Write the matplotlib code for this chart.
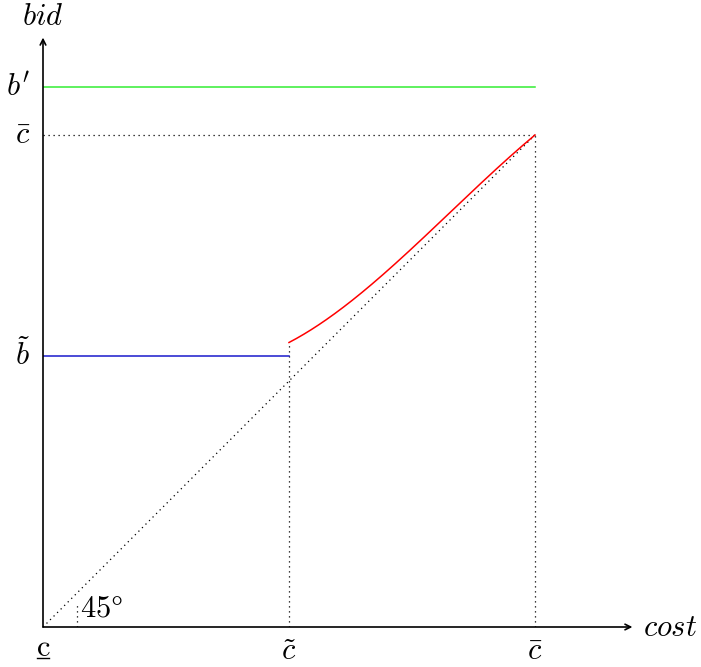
import numpy as np
import matplotlib
matplotlib.use("Agg")
import matplotlib.pyplot as plt

plt.rcParams['mathtext.fontset'] = 'cm'
plt.rcParams['font.family'] = 'serif'
plt.rcParams['font.serif'] = ['DejaVu Serif']

# Values (cost/bid units, c_bar = 1)
c_low = 0.0
c_tilde = 0.5
c_bar = 1.0
b_tilde = 0.551
b_prime = 1.098

# red bidding curve above c_tilde
red_x = [0.500, 0.530, 0.559, 0.594, 0.628, 0.662, 0.695, 0.724, 0.752,
         0.787, 0.818, 0.848, 0.888, 0.925, 0.963, 1.000]
red_y = [0.579, 0.595, 0.612, 0.637, 0.665, 0.692, 0.720, 0.745, 0.770,
         0.807, 0.835, 0.862, 0.898, 0.934, 0.970, 1.000]

xmax = 1.2
fs = 22

fig = plt.figure(figsize=(7.01, 6.67), dpi=100)
ax = fig.add_axes([43 / 701, 40 / 667, xmax * 492 / 701, xmax * 492 / 667])
ax.set_xlim(0, xmax)
ax.set_ylim(0, xmax)
ax.axis('off')

# axes with arrows
ax.annotate('', xy=(1.198, 0), xytext=(0, 0),
            arrowprops=dict(arrowstyle='->', lw=1.2, color='black', shrinkA=0, shrinkB=0))
ax.annotate('', xy=(0, 1.198), xytext=(0, 0),
            arrowprops=dict(arrowstyle='->', lw=1.2, color='black', shrinkA=0, shrinkB=0))

dot = dict(color='black', lw=0.9, ls=(0, (1, 3)))
# 45 degree line
ax.plot([0, c_bar], [0, c_bar], **dot)
# guides
ax.plot([c_tilde, c_tilde], [0, red_y[0]], **dot)
ax.plot([c_bar, c_bar], [0, c_bar], **dot)
ax.plot([0, c_bar], [c_bar, c_bar], **dot)
ax.plot([0.07, 0.07], [0, 0.045], **dot)

# curves
ax.plot([0, c_bar], [b_prime, b_prime], color='#33ee33', lw=1.1)
ax.plot([0, c_tilde], [b_tilde, b_tilde], color='#1a1acc', lw=1.1)
# smooth the hand-read points with a cubic fit
coef = np.polyfit(red_x, red_y, 3)
xs = np.linspace(red_x[0], red_x[-1], 200)
ys = np.polyval(coef, xs)
ys += (red_y[-1] - ys[-1]) * (xs - xs[0]) / (xs[-1] - xs[0])
ax.plot(xs, ys, color='red', lw=1.1)

# labels
ax.text(0, 1.24, r'$bid$', fontsize=fs, ha='center', va='center')
ax.text(1.22, 0, r'$cost$', fontsize=fs, ha='left', va='center')
ax.text(0.075, 0.008, r'$45\degree$', fontsize=fs, ha='left', va='bottom')

ax.text(-0.025, b_prime, r"$b'$", fontsize=fs, ha='right', va='center')
ax.text(-0.025, c_bar, r'$\bar{c}$', fontsize=fs, ha='right', va='center')
ax.text(-0.025, b_tilde, r'$\tilde{b}$', fontsize=fs, ha='right', va='center')

ax.text(c_low, -0.010, r'$\mathrm{c}$', fontsize=fs, ha='center', va='top')
ax.plot([c_low - 0.013, c_low + 0.013], [-0.064, -0.064], color='black', lw=1.0, clip_on=False)
ax.text(c_tilde, -0.018, r'$\tilde{c}$', fontsize=fs, ha='center', va='top')
ax.text(c_bar, -0.018, r'$\bar{c}$', fontsize=fs, ha='center', va='top')

fig.savefig('out.png', dpi=100)
